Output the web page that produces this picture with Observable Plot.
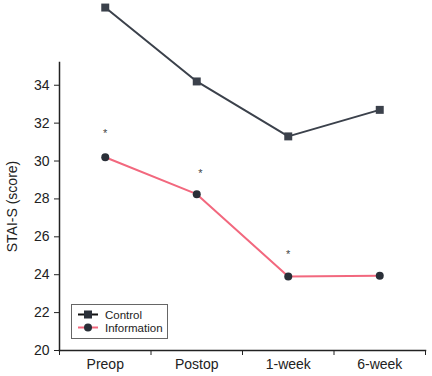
<!DOCTYPE html>
<html><head><meta charset="utf-8">
<script src="https://cdn.jsdelivr.net/npm/d3@7"></script>
<script src="https://cdn.jsdelivr.net/npm/@observablehq/plot@0.6"></script>
<style>
body{margin:0;background:#fff;font-family:"Liberation Sans",Arial,sans-serif;}
#wrap{position:relative;width:432px;height:376px;}
#legend{position:absolute;left:71px;top:304px;width:97px;height:35px;border:1px solid #666;box-sizing:border-box;background:#fff;font-size:11.5px;color:#222;}
#legend div{position:absolute;left:6px;height:13px;display:flex;align-items:center;}
#legend svg{margin-right:7px;}
</style></head>
<body><div id="wrap"></div>
<script>
const categories = ["Preop","Postop","1-week","6-week"];
const control = [38.1, 34.2, 31.3, 32.7];
const information = [30.2, 28.25, 23.9, 23.95];
const asteriskY = [31.45, 29.35, 25.05];
const asteriskCats = ["Preop","Postop","1-week"];
const yTicks = [20,22,24,26,28,30,32,34];

const ctrlColor = "#3b414b", infoColor = "#f2687e", dotColor = "#2a2f38";
const ctrl = categories.map((c,i)=>({i, v: control[i]}));
const info = categories.map((c,i)=>({i, v: information[i]}));
const ast = asteriskCats.map((c,k)=>({i: categories.indexOf(c) + (k===1?0.04:0), v: asteriskY[k]}));
const bounds = d3.range(categories.length+1).map(k=>k-0.5);

const chart = Plot.plot({
  width: 432, height: 376,
  marginLeft: 59, marginRight: 7, marginTop: 62, marginBottom: 26,
  style: {fontFamily: '"Liberation Sans", Arial, sans-serif', fontSize: "14px", color: "#222"},
  x: {type: "linear", domain: [-0.5, categories.length-0.5]},
  y: {domain: [20, 35.2]},
  marks: [
    Plot.axisY({ticks: yTicks, tickSize: 5, tickPadding: 5, fontSize: 14, label: "STAI-S (score)", labelAnchor: "center", labelArrow: "none", labelOffset: 52, stroke: "#222"}),
    Plot.axisX({ticks: d3.range(categories.length), tickSize: 0, tickPadding: 9, tickFormat: i => categories[i], fontSize: 14, label: null}),
    Plot.axisX({ticks: bounds, tickSize: 5, tickFormat: () => "", label: null, stroke: "#222"}),
    Plot.frame({anchor: "left", stroke: "#222", strokeWidth: 1.5}),
    Plot.frame({anchor: "bottom", stroke: "#222", strokeWidth: 1.5}),
    Plot.line(ctrl, {x: "i", y: "v", stroke: ctrlColor, strokeWidth: 2}),
    Plot.dot(ctrl, {x: "i", y: "v", symbol: "square", r: 4.5, fill: ctrlColor}),
    Plot.line(info, {x: "i", y: "v", stroke: infoColor, strokeWidth: 2}),
    Plot.dot(info, {x: "i", y: "v", symbol: "circle", r: 4, fill: dotColor}),
    Plot.text(ast, {x: "i", y: "v", text: () => "*", fontSize: 11, fill: "#444"})
  ]
});
const wrap = document.getElementById("wrap");
wrap.appendChild(chart);
const legend = document.createElement("div");
legend.id = "legend";
const items = [["Control", ctrlColor, "square"], ["Information", infoColor, "circle"]];
items.forEach(([name, col, sym], k) => {
  const row = document.createElement("div");
  row.style.top = (3 + k*13) + "px";
  const marker = sym === "square"
    ? `<rect x="6" y="2.5" width="8" height="8" fill="${dotColor}"/>`
    : `<circle cx="10" cy="6.5" r="4" fill="${dotColor}"/>`;
  row.innerHTML = `<svg width="20" height="13"><line x1="0" x2="20" y1="6.5" y2="6.5" stroke="${k===0?'#111':col}" stroke-width="2"/>${marker}</svg><span>${name}</span>`;
  legend.appendChild(row);
});
wrap.appendChild(legend);
</script></body></html>
